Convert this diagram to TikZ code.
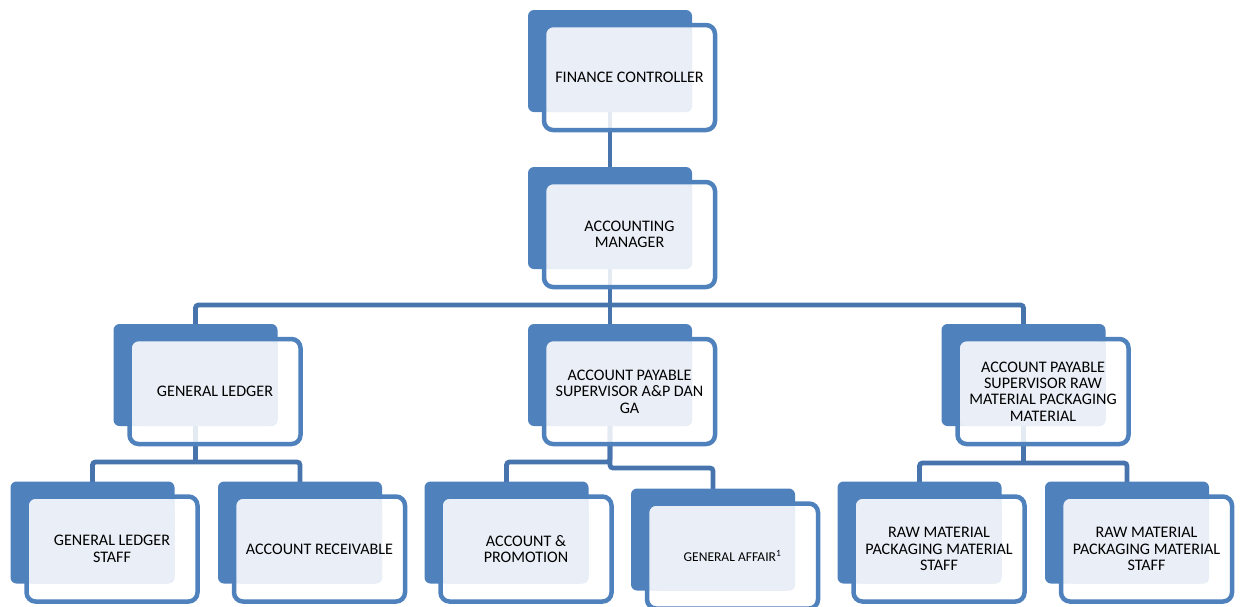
\documentclass[tikz,border=0pt]{standalone}
\usepackage{fontspec}
\setmainfont{Carlito}
\usepackage{xcolor}
\usepackage{tikz}
\usetikzlibrary{calc,backgrounds}
\definecolor{boxblue}{HTML}{4F81BD}
\definecolor{linkblue}{HTML}{4874AE}
\definecolor{paleblue}{HTML}{EAEFF7}

\begin{document}
\begin{tikzpicture}[x=1pt,y=-1pt,font=\fontsize{16.1}{16.4}\selectfont,
  backbox/.style={rectangle,rounded corners=6pt,fill=boxblue,minimum width=164pt,minimum height=102pt,inner sep=0pt},
  frontbox/.style={rectangle,rounded corners=9pt,draw=boxblue,line width=4.5pt,fill=white,fill opacity=.85,text opacity=1,
    minimum width=171pt,minimum height=105pt,inner sep=0pt,align=center,
    path picture={\fill[paleblue,fill opacity=1] ($(path picture bounding box.south west)+(2pt,18pt)$) rectangle ($(path picture bounding box.north east)+(-23pt,-2pt)$);}},
  link/.style={linkblue,line width=4.8pt,rounded corners=3pt}]
\useasboundingbox (0,0) rectangle (1240,606);
% boxes: back panel, then framed front panel with the title
\foreach \nm/\cx/\cy/\txt in {fc/629.5/77.5/{FINANCE CONTROLLER},
  am/629.5/234.5/{ACCOUNTING\\MANAGER},
  gl/215/391.5/{GENERAL LEDGER},
  ap/629.5/391.5/{ACCOUNT PAYABLE\\SUPERVISOR A\&P DAN\\GA},
  ar/1043/391.5/{ACCOUNT PAYABLE\\SUPERVISOR RAW\\MATERIAL PACKAGING\\MATERIAL},
  gls/112/549/{GENERAL LEDGER\\STAFF},
  rec/319.5/549/{ACCOUNT RECEIVABLE},
  pro/526/549/{ACCOUNT \&\\PROMOTION},
  ga/732.5/556/{{\fontsize{13.5}{15}\selectfont GENERAL AFFAIR\textsuperscript{1}}},
  rawa/939/549/{RAW MATERIAL\\PACKAGING MATERIAL\\STAFF},
  rawb/1146.5/549/{RAW MATERIAL\\PACKAGING MATERIAL\\STAFF}}{
  \node[backbox] (\nm b) at (\cx-19.5,\cy-16.5) {};
  \node[frontbox] (\nm) at (\cx,\cy) {\txt};
}
% joints of the connectors
\coordinate (amjoin) at (610,305);
\coordinate (gljoin) at (195.5,462);
\coordinate (apjoin) at (610,462);
\coordinate (apjog) at (660,468);
\coordinate (arjoin) at (1023.5,463);
\begin{scope}[on background layer]
\draw[link] (fcb.center) -- (amb.center);
\draw[link] (amb.center) -- (amjoin);
\draw[link] (glb.center) |- (amjoin) -| (arb.center);
\draw[link] (amjoin) -- (apb.center);
\draw[link] (glb.center) -- (gljoin);
\draw[link] (glsb.center) |- (gljoin) -| (recb.center);
\draw[link] (prob.center) |- (apjoin) -- (apb.center);
\draw[link] (apb.center) |- (apjog) -| (gab.center);
\draw[link] (arb.center) -- (arjoin);
\draw[link] (rawab.center) |- (arjoin) -| (rawbb.center);
\end{scope}
\end{tikzpicture}
\end{document}
